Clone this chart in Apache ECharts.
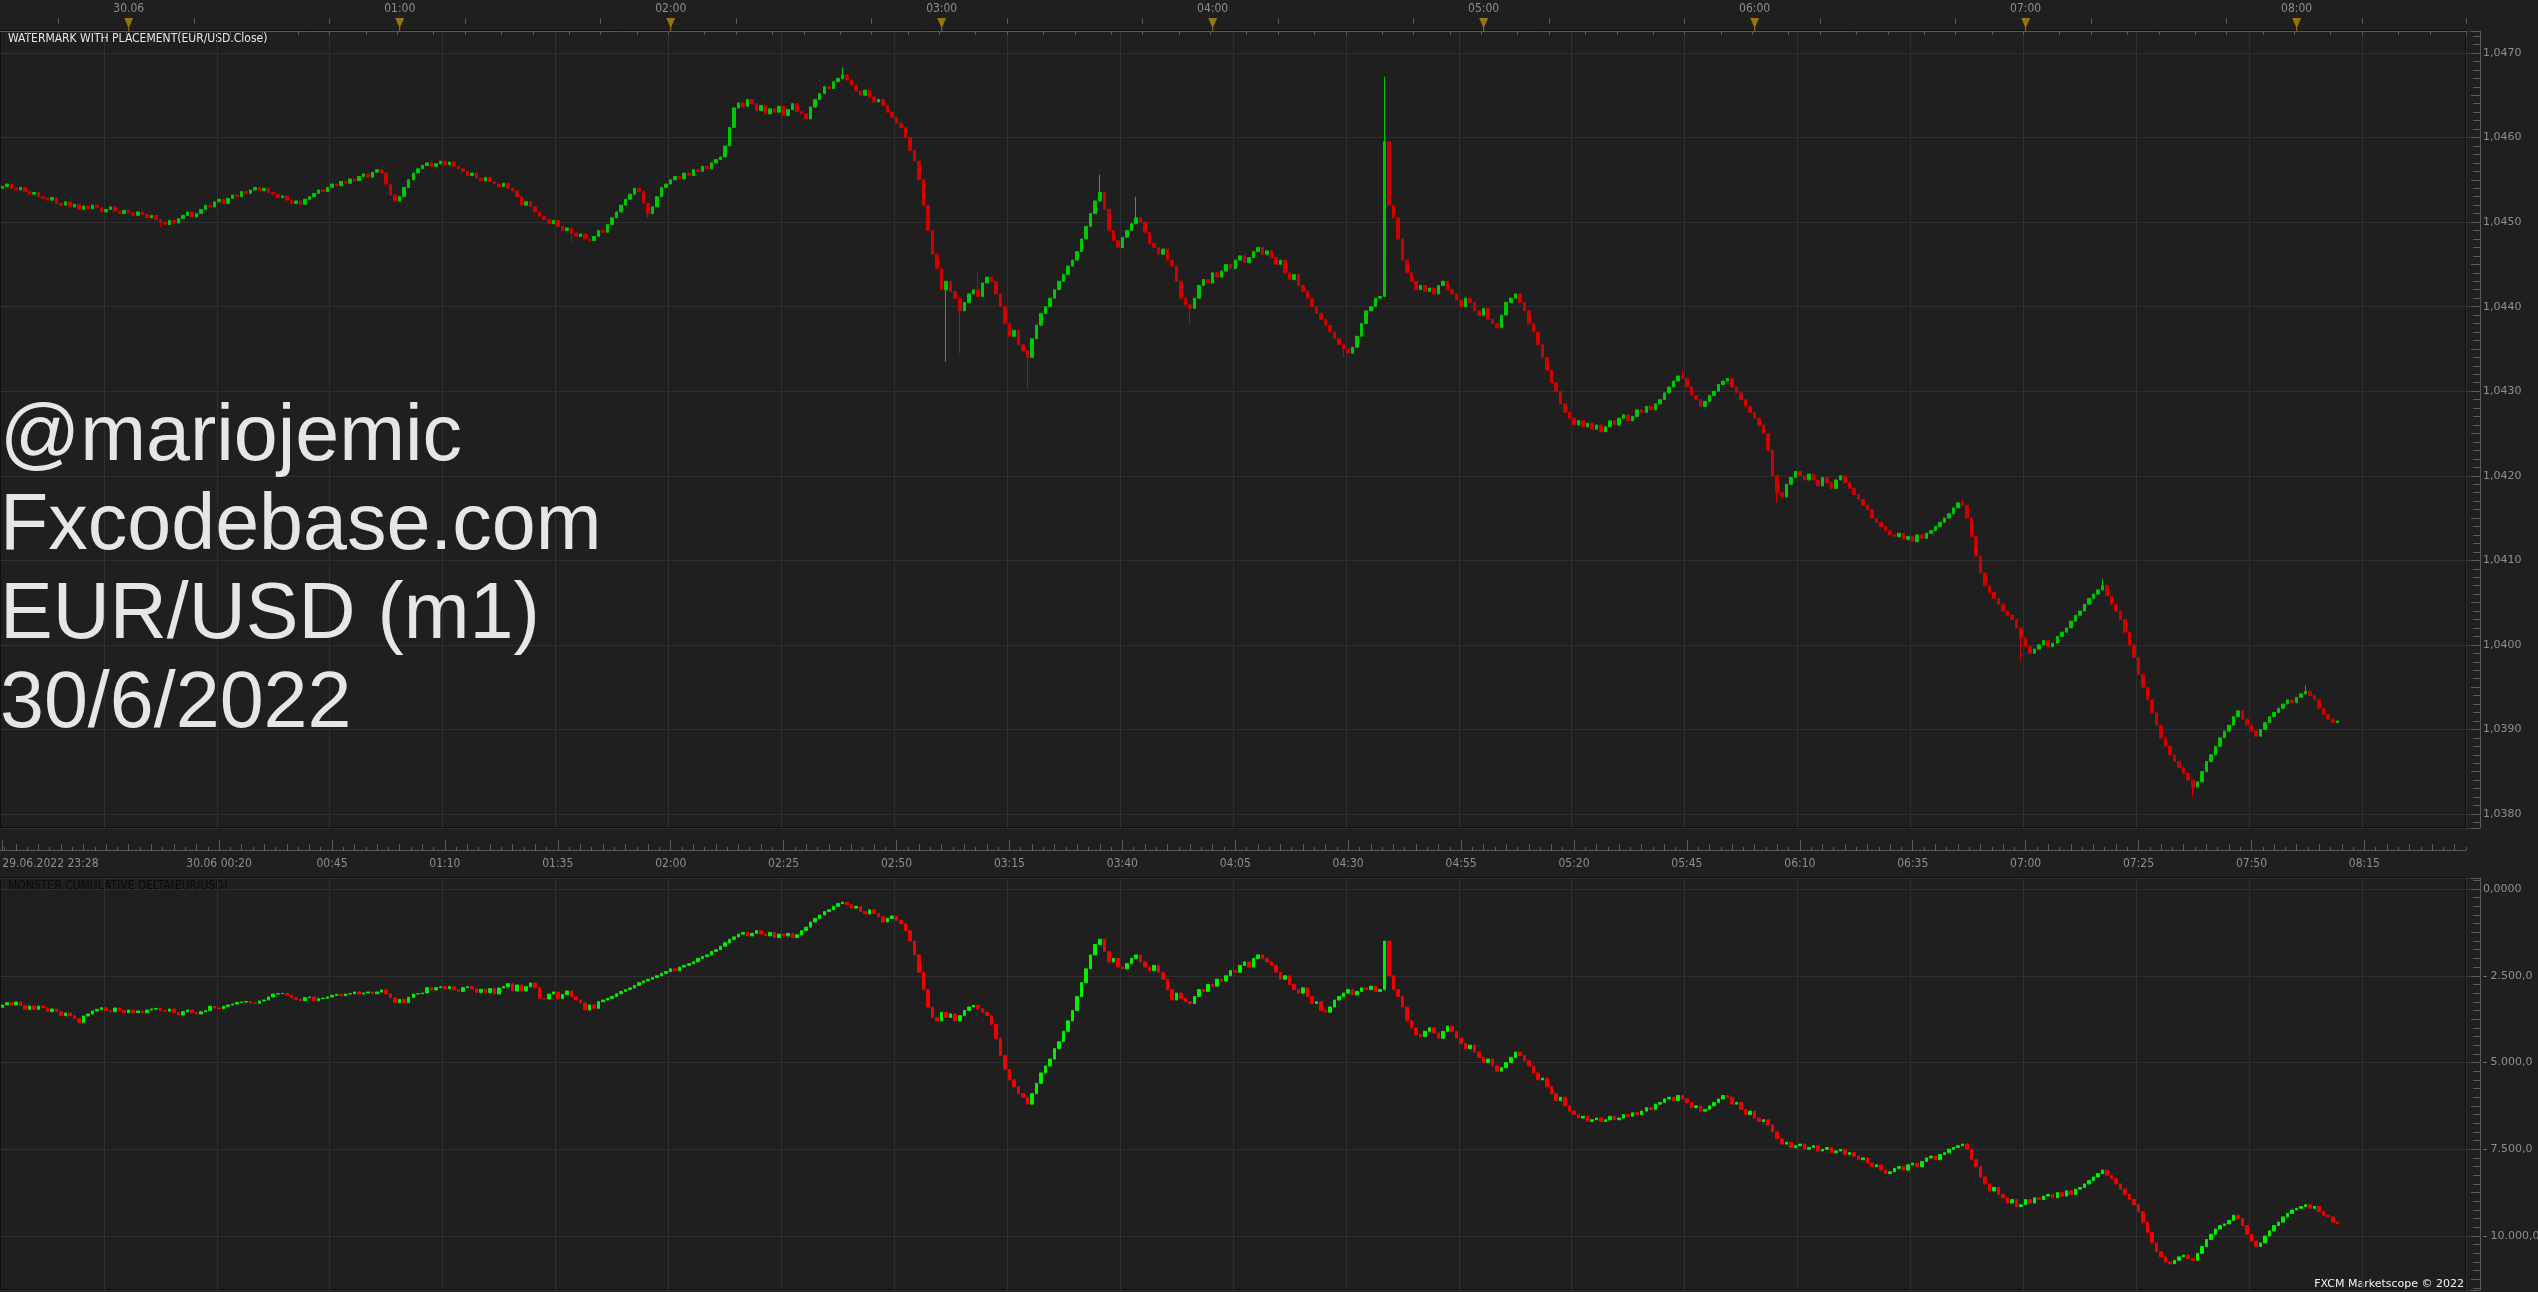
<!DOCTYPE html>
<html>
<head>
<meta charset="utf-8">
<title>EUR/USD (m1) 30/6/2022</title>
<script src="https://cdn.jsdelivr.net/npm/echarts@6/dist/echarts.min.js"></script>
<style>
html, body { margin: 0; padding: 0; background: #1f1f1f; }
#main { width: 2538px; height: 1292px; }
</style>
</head>
<body>
<div id="main"></div>
<script type="text/javascript">
// first minute column is 29.06 23:32, one column per minute
var startMinute = 23 * 60 + 32;
var slotCount = 546;

var hourLabels = ['30.06', '01:00', '02:00', '03:00', '04:00', '05:00', '06:00', '07:00', '08:00'];
var timeLabels = ['29.06.2022 23:28', '30.06 00:20', '00:45', '01:10', '01:35', '02:00', '02:25', '02:50',
  '03:15', '03:40', '04:05', '04:30', '04:55', '05:20', '05:45', '06:10', '06:35', '07:00', '07:25', '07:50', '08:15'];

// EUR/USD m1 closes (open = previous close)
var priceOpen = 1.04540;
var priceClose = [
  1.04542, 1.04545, 1.04540, 1.04538, 1.04541, 1.04536, 1.04533, 1.04535, 1.04530, 1.04528,
  1.04526, 1.04529, 1.04522, 1.04520, 1.04524, 1.04518, 1.04521, 1.04515, 1.04519, 1.04516,
  1.04520, 1.04517, 1.04512, 1.04515, 1.04518, 1.04513, 1.04510, 1.04514, 1.04511, 1.04508,
  1.04512, 1.04509, 1.04505, 1.04508, 1.04503, 1.04500, 1.04497, 1.04502, 1.04499, 1.04504,
  1.04508, 1.04512, 1.04506, 1.04510, 1.04515, 1.04520, 1.04518, 1.04524, 1.04527, 1.04522,
  1.04528, 1.04532, 1.04530, 1.04536, 1.04534, 1.04538, 1.04541, 1.04537, 1.04540, 1.04535,
  1.04533, 1.04529, 1.04531, 1.04526, 1.04522, 1.04525, 1.04521, 1.04527, 1.04530, 1.04534,
  1.04538, 1.04536, 1.04541, 1.04545, 1.04543, 1.04548, 1.04546, 1.04551, 1.04549, 1.04554,
  1.04557, 1.04553, 1.04559, 1.04562, 1.04558, 1.04545, 1.04532, 1.04525, 1.04530, 1.04541,
  1.04550, 1.04558, 1.04563, 1.04567, 1.04570, 1.04566, 1.04569, 1.04572, 1.04568, 1.04571,
  1.04566, 1.04563, 1.04560, 1.04555, 1.04558, 1.04552, 1.04549, 1.04553, 1.04548, 1.04545,
  1.04542, 1.04546, 1.04540, 1.04537, 1.04530, 1.04520, 1.04524, 1.04518, 1.04512, 1.04507,
  1.04503, 1.04498, 1.04502, 1.04495, 1.04490, 1.04493, 1.04487, 1.04483, 1.04486, 1.04480,
  1.04478, 1.04483, 1.04490, 1.04488, 1.04497, 1.04505, 1.04512, 1.04520, 1.04527, 1.04533,
  1.04540, 1.04536, 1.04522, 1.04510, 1.04518, 1.04530, 1.04541, 1.04545, 1.04550, 1.04554,
  1.04551, 1.04558, 1.04555, 1.04562, 1.04560, 1.04566, 1.04563, 1.04570, 1.04574, 1.04577,
  1.04590, 1.04612, 1.04635, 1.04641, 1.04637, 1.04645, 1.04640, 1.04632, 1.04638, 1.04628,
  1.04634, 1.04630, 1.04637, 1.04626, 1.04633, 1.04640, 1.04631, 1.04628, 1.04622, 1.04636,
  1.04645, 1.04652, 1.04660, 1.04658, 1.04666, 1.04670, 1.04674, 1.04668, 1.04662, 1.04655,
  1.04650, 1.04656, 1.04648, 1.04642, 1.04645, 1.04638, 1.04630, 1.04624, 1.04617, 1.04612,
  1.04600, 1.04585, 1.04572, 1.04550, 1.04520, 1.04490, 1.04462, 1.04445, 1.04420, 1.04430,
  1.04418, 1.04410, 1.04395, 1.04405, 1.04415, 1.04420, 1.04412, 1.04428, 1.04435, 1.04430,
  1.04415, 1.04400, 1.04380, 1.04365, 1.04372, 1.04355, 1.04348, 1.04340, 1.04362, 1.04378,
  1.04392, 1.04400, 1.04410, 1.04420, 1.04430, 1.04438, 1.04448, 1.04455, 1.04465, 1.04480,
  1.04495, 1.04510, 1.04525, 1.04535, 1.04515, 1.04490, 1.04478, 1.04470, 1.04482, 1.04490,
  1.04498, 1.04505, 1.04500, 1.04488, 1.04475, 1.04470, 1.04462, 1.04468, 1.04455, 1.04448,
  1.04430, 1.04410, 1.04402, 1.04398, 1.04410, 1.04425, 1.04432, 1.04428, 1.04440, 1.04435,
  1.04442, 1.04450, 1.04445, 1.04455, 1.04460, 1.04452, 1.04458, 1.04465, 1.04470, 1.04462,
  1.04466, 1.04458, 1.04450, 1.04455, 1.04440, 1.04432, 1.04438, 1.04425, 1.04418, 1.04410,
  1.04400, 1.04392, 1.04385, 1.04378, 1.04370, 1.04362, 1.04355, 1.04350, 1.04345, 1.04352,
  1.04365, 1.04380, 1.04395, 1.04400, 1.04410, 1.04412, 1.04595, 1.04520, 1.04505, 1.04480,
  1.04455, 1.04440, 1.04430, 1.04420, 1.04425, 1.04418, 1.04422, 1.04415, 1.04425, 1.04430,
  1.04420, 1.04415, 1.04408, 1.04400, 1.04410, 1.04405, 1.04395, 1.04390, 1.04398, 1.04385,
  1.04380, 1.04375, 1.04390, 1.04405, 1.04410, 1.04415, 1.04405, 1.04395, 1.04380, 1.04370,
  1.04355, 1.04340, 1.04325, 1.04310, 1.04300, 1.04285, 1.04275, 1.04268, 1.04260, 1.04265,
  1.04258, 1.04262, 1.04255, 1.04260, 1.04252, 1.04258, 1.04265, 1.04260, 1.04268, 1.04272,
  1.04265, 1.04270, 1.04278, 1.04275, 1.04282, 1.04278, 1.04285, 1.04290, 1.04298, 1.04305,
  1.04312, 1.04318, 1.04315, 1.04305, 1.04295, 1.04290, 1.04282, 1.04288, 1.04295, 1.04300,
  1.04308, 1.04312, 1.04315, 1.04305, 1.04298, 1.04290, 1.04282, 1.04275, 1.04268, 1.04260,
  1.04250, 1.04230, 1.04200, 1.04180, 1.04175, 1.04190, 1.04198, 1.04205, 1.04200, 1.04195,
  1.04202, 1.04195, 1.04188, 1.04198, 1.04192, 1.04185, 1.04195, 1.04200, 1.04192, 1.04185,
  1.04178, 1.04172, 1.04165, 1.04160, 1.04150, 1.04145, 1.04140, 1.04135, 1.04130, 1.04128,
  1.04132, 1.04125, 1.04128, 1.04122, 1.04130, 1.04126, 1.04132, 1.04135, 1.04140, 1.04145,
  1.04150, 1.04155, 1.04162, 1.04168, 1.04165, 1.04150, 1.04128, 1.04105, 1.04085, 1.04070,
  1.04062, 1.04055, 1.04048, 1.04040, 1.04035, 1.04030, 1.04020, 1.04008, 1.03998, 1.03990,
  1.03995, 1.04000, 1.04005, 1.03998, 1.04002, 1.04010, 1.04015, 1.04020, 1.04028, 1.04035,
  1.04040, 1.04048, 1.04055, 1.04060, 1.04065, 1.04070, 1.04058, 1.04048, 1.04040, 1.04030,
  1.04015, 1.04000, 1.03985, 1.03965, 1.03950, 1.03935, 1.03920, 1.03905, 1.03890, 1.03880,
  1.03870, 1.03862, 1.03855, 1.03848, 1.03840, 1.03832, 1.03838, 1.03850, 1.03862, 1.03870,
  1.03880, 1.03890, 1.03898, 1.03905, 1.03915, 1.03922, 1.03912, 1.03905, 1.03898, 1.03892,
  1.03900, 1.03908, 1.03915, 1.03920, 1.03925, 1.03930, 1.03935, 1.03932, 1.03938, 1.03942,
  1.03945, 1.03940, 1.03935, 1.03925, 1.03918, 1.03912, 1.03908, 1.03910
];
// wicks that reach past the body (candle index -> price)
var wickHigh = { 186: 1.04683, 208: 1.04440, 216: 1.04440, 243: 1.04556, 251: 1.04530, 306: 1.04672, 307: 1.04545, 372: 1.04325, 434: 1.04172, 465: 1.04078, 510: 1.03952 };
var wickLow = { 35: 1.04494, 126: 1.04476, 143: 1.04505, 209: 1.04335, 212: 1.04345, 227: 1.04304, 263: 1.04380, 297: 1.04340, 393: 1.04168, 447: 1.03980, 485: 1.03820 };

// cumulative delta bars (open = previous close)
var deltaOpen = -3410;
var deltaClose = [
  -3343, -3276, -3343, -3256, -3353, -3468, -3372, -3468, -3372, -3420,
  -3535, -3458, -3535, -3650, -3573, -3650, -3737, -3852, -3660, -3602,
  -3516, -3468, -3420, -3506, -3535, -3429, -3506, -3564, -3487, -3564,
  -3516, -3564, -3487, -3458, -3440, -3506, -3520, -3458, -3564, -3631,
  -3535, -3487, -3564, -3602, -3535, -3506, -3381, -3430, -3449, -3381,
  -3343, -3314, -3266, -3256, -3245, -3285, -3295, -3228, -3199, -3112,
  -3026, -3018, -3010, -3055, -3132, -3180, -3218, -3132, -3112, -3218,
  -3160, -3148, -3112, -3065, -3036, -3074, -3026, -3018, -2968, -3026,
  -2997, -2968, -3016, -2968, -2910, -3026, -3132, -3276, -3180, -3276,
  -3122, -3026, -3018, -2997, -2843, -2910, -2843, -2815, -2872, -2815,
  -2900, -2949, -2843, -2815, -2880, -2978, -2891, -2987, -2872, -3026,
  -2853, -2815, -2728, -2939, -2767, -2939, -2815, -2709, -2843, -3150,
  -3170, -3026, -2968, -3160, -3045, -2939, -3103, -3199, -3285, -3487,
  -3343, -3439, -3247, -3200, -3150, -3100, -3020, -2950, -2900, -2850,
  -2780, -2700, -2650, -2600, -2550, -2500, -2430, -2380, -2300, -2350,
  -2250, -2200, -2150, -2100, -2000, -1950, -1900, -1800, -1750, -1650,
  -1550, -1450, -1380, -1300, -1250, -1350, -1280, -1200, -1300, -1350,
  -1250, -1400, -1300, -1350, -1280, -1400, -1320, -1200, -1100, -950,
  -850, -750, -650, -600, -500, -420, -380, -450, -550, -500,
  -650, -720, -600, -700, -800, -950, -850, -780, -900, -1000,
  -1200, -1500, -1900, -2400, -2900, -3400, -3700, -3800, -3550, -3700,
  -3600, -3800, -3650, -3500, -3400, -3350, -3450, -3550, -3650, -3900,
  -4300, -4800, -5200, -5500, -5700, -5900, -6000, -6200, -5900, -5600,
  -5300, -5100, -4900, -4600, -4400, -4100, -3800, -3500, -3100, -2700,
  -2300, -1900, -1600, -1450, -1800, -2100, -2000, -2250, -2300, -2150,
  -2000, -1900, -2100, -2250, -2350, -2200, -2400, -2600, -2900, -3200,
  -3000, -3150, -3250, -3300, -3100, -2900, -2950, -2750, -2800, -2600,
  -2650, -2500, -2350, -2400, -2200, -2100, -2250, -2000, -1900, -2000,
  -2100, -2200, -2400, -2600, -2500, -2750, -2900, -3000, -2850, -3100,
  -3300, -3250, -3500, -3550, -3400, -3200, -3100, -3000, -2900, -3050,
  -2950, -2850, -2900, -2800, -2950, -2900, -1500, -2500, -2900, -3100,
  -3400, -3800, -4000, -4200, -4250, -4100, -4000, -4150, -4300, -4100,
  -3950, -4100, -4300, -4450, -4600, -4500, -4700, -4850, -5000, -4900,
  -5100, -5250, -5150, -5000, -4850, -4700, -4800, -4950, -5100, -5300,
  -5500, -5450, -5700, -5900, -6100, -6000, -6250, -6400, -6500, -6600,
  -6550, -6700, -6650, -6600, -6700, -6650, -6550, -6650, -6600, -6500,
  -6550, -6450, -6500, -6400, -6300, -6350, -6200, -6150, -6050, -6000,
  -6100, -5950, -6050, -6150, -6300, -6250, -6400, -6350, -6250, -6150,
  -6050, -5950, -6000, -6200, -6150, -6350, -6500, -6400, -6600, -6700,
  -6650, -6800, -7000, -7200, -7350, -7300, -7450, -7400, -7350, -7500,
  -7450, -7400, -7550, -7500, -7450, -7600, -7550, -7500, -7650, -7600,
  -7700, -7800, -7750, -7900, -8000, -7950, -8100, -8200, -8150, -8050,
  -8000, -8100, -7950, -7900, -8000, -7850, -7750, -7700, -7800, -7650,
  -7600, -7500, -7450, -7400, -7350, -7500, -7800, -8000, -8300, -8500,
  -8700, -8600, -8800, -8900, -9050, -8950, -9150, -9100, -8950, -9050,
  -8900, -8950, -8850, -8800, -8900, -8750, -8850, -8700, -8800, -8650,
  -8600, -8500, -8400, -8300, -8200, -8100, -8250, -8350, -8500, -8650,
  -8800, -8950, -9100, -9300, -9600, -9900, -10200, -10450, -10600, -10750,
  -10800, -10700, -10600, -10550, -10650, -10700, -10500, -10300, -10100, -9950,
  -9800, -9700, -9650, -9550, -9400, -9500, -9700, -9950, -10150, -10300,
  -10200, -10000, -9850, -9700, -9600, -9450, -9350, -9250, -9200, -9150,
  -9100, -9200, -9150, -9300, -9400, -9450, -9600, -9650
];

var priceMin = 1.037834, priceMax = 1.047260;
var deltaMin = -11556, deltaMax = 317;

var labelFont = "'DejaVu Sans Condensed', 'Liberation Sans Narrow', 'DejaVu Sans', sans-serif";
var axisColor = '#5a5a5a';
var gridColor = '#2f2f2f';
var textGray = '#8e8e8e';

function minuteOf(idx) { return (startMinute + idx) % 1440; }
var firstHourIdx = (60 - startMinute % 60) % 60;
var labelStartIdx = 48, labelStep = 25;   // 00:20, then every 25 minutes

var categories = [];
for (var i = 0; i < slotCount; i++) {
  var m = minuteOf(i);
  categories.push(('0' + Math.floor(m / 60)).slice(-2) + ':' + ('0' + (m % 60)).slice(-2));
}

function isTimeLabel(idx) { return idx === 0 || (idx >= labelStartIdx && (idx - labelStartIdx) % labelStep === 0); }
function isGridLine(idx) { return (idx - labelStartIdx) % labelStep === 0; }

var priceCandles = [];
var prev = priceOpen;
for (var i = 0; i < priceClose.length; i++) {
  var c = priceClose[i];
  var hi = Math.max(prev, c), lo = Math.min(prev, c);
  if (wickHigh[i] !== undefined) hi = Math.max(hi, wickHigh[i]);
  if (wickLow[i] !== undefined) lo = Math.min(lo, wickLow[i]);
  priceCandles.push([prev, c, lo, hi]);
  prev = c;
}
var lastClose = priceClose[priceClose.length - 1];

var deltaBars = [];
prev = deltaOpen;
for (var i = 0; i < deltaClose.length; i++) {
  var d = deltaClose[i];
  deltaBars.push([prev, d, Math.min(prev, d), Math.max(prev, d)]);
  prev = d;
}

var hourMarks = [];
for (var k = 0; k < hourLabels.length; k++) hourMarks.push([firstHourIdx + k * 60, 0.5]);

function priceFmt(v) {
  if (Math.abs(v * 1000 - Math.round(v * 1000)) > 1e-6) return '';
  return v.toFixed(4).replace('.', ',');
}
function deltaFmt(v) {
  if (Math.abs(v / 2500 - Math.round(v / 2500)) > 1e-6) return '';
  if (v === 0) return '0,0000';
  var s = Math.abs(v).toFixed(0).replace(/\B(?=(\d{3})+(?!\d))/g, '.');
  return (v < 0 ? '- ' : '') + s + ',0';
}

function tickAxis(gridIndex, position, offset, len, intervalFn, align) {
  return {
    gridIndex: gridIndex, type: 'category', data: categories, position: position, offset: offset,
    axisLine: { show: false },
    axisTick: { show: true, inside: true, length: len, alignWithLabel: !!align, interval: intervalFn, lineStyle: { color: axisColor } },
    axisLabel: { show: false }, splitLine: { show: false }
  };
}
function valueTickAxis(gridIndex, min, max, step, len) {
  return {
    gridIndex: gridIndex, type: 'value', position: 'right', offset: 14, min: min, max: max,
    minInterval: step, maxInterval: step,
    axisLine: { show: false },
    axisTick: { show: true, inside: true, length: len, lineStyle: { color: axisColor } },
    axisLabel: { show: false }, splitLine: { show: false }
  };
}

var myChart = echarts.init(document.getElementById('main'));

var option = {
  backgroundColor: '#1f1f1f',
  animation: false,
  grid: [
    { left: 0, right: 72, top: 18, height: 13, outerBoundsMode: 'none' },
    { left: 0, right: 72, top: 31, height: 797, show: true, borderColor: '#000', borderWidth: 1, outerBoundsMode: 'none' },
    { left: 0, right: 72, top: 878, height: 412, show: true, borderColor: '#000', borderWidth: 1, outerBoundsMode: 'none' }
  ],
  xAxis: [
    {
      gridIndex: 0, type: 'category', data: categories, position: 'top',
      axisLine: { show: true, lineStyle: { color: axisColor } },
      axisTick: { show: true, inside: true, length: 4, lineStyle: { color: axisColor },
        interval: function (idx) { var m = minuteOf(idx) % 60; return [0, 8, 15, 23, 30, 38, 45, 53].indexOf(m) >= 0; } },
      axisLabel: {
        show: true, margin: 3, color: textGray, fontFamily: labelFont, fontSize: 12,
        interval: function (idx) { return minuteOf(idx) % 60 === 0; },
        formatter: function (val, idx) { return hourLabels[Math.round((idx - firstHourIdx) / 60)] || ''; }
      },
      splitLine: { show: false }
    },
    tickAxis(0, 'top', 0, 6, function (idx) { var m = minuteOf(idx) % 60; return m === 15 || m === 45; }, false),
    {
      gridIndex: 1, type: 'category', data: categories, position: 'bottom', offset: 22,
      axisLine: { show: true, lineStyle: { color: axisColor } },
      axisTick: { show: true, inside: true, length: 10, alignWithLabel: true, interval: isTimeLabel, lineStyle: { color: axisColor } },
      axisLabel: {
        show: true, margin: 8, color: textGray, fontFamily: labelFont, fontSize: 12,
        interval: isTimeLabel, alignMinLabel: 'left',
        formatter: function (val, idx) {
          if (idx === 0) return timeLabels[0];
          return timeLabels[1 + (idx - labelStartIdx) / labelStep] || '';
        }
      },
      splitLine: { show: true, interval: isGridLine, lineStyle: { color: gridColor } }
    },
    tickAxis(1, 'bottom', 22, 6, function (idx) { return (minuteOf(idx) % 5) === 0; }, true),
    tickAxis(1, 'bottom', 22, 3, function (idx) { return (minuteOf(idx) % 5) === 3; }, false),
    {
      gridIndex: 2, type: 'category', data: categories, position: 'bottom',
      axisLine: { show: false }, axisTick: { show: false }, axisLabel: { show: false },
      splitLine: { show: true, interval: isGridLine, lineStyle: { color: gridColor } }
    }
  ],
  yAxis: [
    { gridIndex: 0, type: 'value', min: 0, max: 1, show: false },
    {
      gridIndex: 1, type: 'value', position: 'right', offset: 14, min: priceMin, max: priceMax,
      minInterval: 0.001, maxInterval: 0.001,
      axisLine: { show: true, lineStyle: { color: axisColor } },
      axisTick: { show: true, inside: true, length: 14, lineStyle: { color: '#3a3a3a' } },
      axisLabel: { show: true, margin: 3, color: textGray, fontFamily: 'DejaVu Sans', fontSize: 11, formatter: priceFmt },
      splitLine: { show: true, lineStyle: { color: gridColor } }
    },
    valueTickAxis(1, priceMin, priceMax, 0.0005, 9),
    valueTickAxis(1, priceMin, priceMax, 0.0001, 7),
    {
      gridIndex: 2, type: 'value', position: 'right', offset: 14, min: deltaMin, max: deltaMax,
      minInterval: 2500, maxInterval: 2500,
      axisLine: { show: true, lineStyle: { color: axisColor } },
      axisTick: { show: true, inside: true, length: 14, lineStyle: { color: '#3a3a3a' } },
      axisLabel: { show: true, margin: 3, color: textGray, fontFamily: 'DejaVu Sans', fontSize: 11, formatter: deltaFmt },
      splitLine: { show: true, lineStyle: { color: gridColor } }
    },
    valueTickAxis(2, deltaMin, deltaMax, 1250, 9),
    valueTickAxis(2, deltaMin, deltaMax, 250, 7)
  ],
  series: [
    {
      type: 'scatter', xAxisIndex: 0, yAxisIndex: 0, silent: true,
      symbol: 'path://M0,0L10,0L5.6,9L5.6,13L4.4,13L4.4,9Z', symbolSize: [9, 13], symbolKeepAspect: false,
      itemStyle: { color: '#b58a08' },
      data: hourMarks
    },
    {
      name: 'EUR/USD', type: 'candlestick', xAxisIndex: 2, yAxisIndex: 1, silent: true,
      barWidth: 3,
      itemStyle: { color: '#00c800', color0: '#d00000', borderColor: '#00c800', borderColor0: '#d00000', borderWidth: 1 },
      data: priceCandles,
      markLine: {
        silent: true, symbol: ['none', 'none'], animation: false,
        lineStyle: { opacity: 0 },
        label: {
          show: true, position: 'end', distance: 14, color: '#000', backgroundColor: '#4ba4f7',
          fontFamily: 'DejaVu Sans', fontSize: 11, padding: [2, 2, 1, 2],
          formatter: function () { return lastClose.toFixed(5).replace('.', ','); }
        },
        data: [{ yAxis: lastClose }]
      }
    },
    {
      name: 'Delta', type: 'candlestick', xAxisIndex: 5, yAxisIndex: 4, silent: true,
      barWidth: 3,
      itemStyle: { color: '#00f000', color0: '#f00000', borderColor: '#00f000', borderColor0: '#f00000', borderWidth: 1 },
      data: deltaBars
    }
  ],
  graphic: [
    { type: 'text', x: 8, y: 39, silent: true, style: { text: 'WATERMARK WITH PLACEMENT(EUR/USD.Close)', fill: '#e6e6e6', font: '12px ' + labelFont, verticalAlign: 'middle' } },
    { type: 'text', x: 8, y: 886, silent: true, style: { text: 'MONSTER CUMULATIVE DELTA(EUR/USD)', fill: '#0a0a0a', font: '12px ' + labelFont, verticalAlign: 'middle' } },
    { type: 'text', x: 2464, y: 1284, silent: true, style: { text: 'FXCM Marketscope \u00a9 2022', fill: '#f2f2f2', font: '11px "DejaVu Sans"', align: 'right', verticalAlign: 'middle' } },
    { type: 'text', x: 0, y: 438, silent: true, z: 100, style: { text: '@mariojemic', fill: '#e6e6e6', font: '79px "Liberation Sans"', verticalAlign: 'middle' } },
    { type: 'text', x: 0, y: 527, silent: true, z: 100, style: { text: 'Fxcodebase.com', fill: '#e6e6e6', font: '79px "Liberation Sans"', verticalAlign: 'middle' } },
    { type: 'text', x: 0, y: 616, silent: true, z: 100, style: { text: 'EUR/USD (m1)', fill: '#e6e6e6', font: '79px "Liberation Sans"', verticalAlign: 'middle' } },
    { type: 'text', x: 0, y: 705, silent: true, z: 100, style: { text: '30/6/2022', fill: '#e6e6e6', font: '79px "Liberation Sans"', verticalAlign: 'middle' } }
  ]
};

myChart.setOption(option);
</script>
</body>
</html>
